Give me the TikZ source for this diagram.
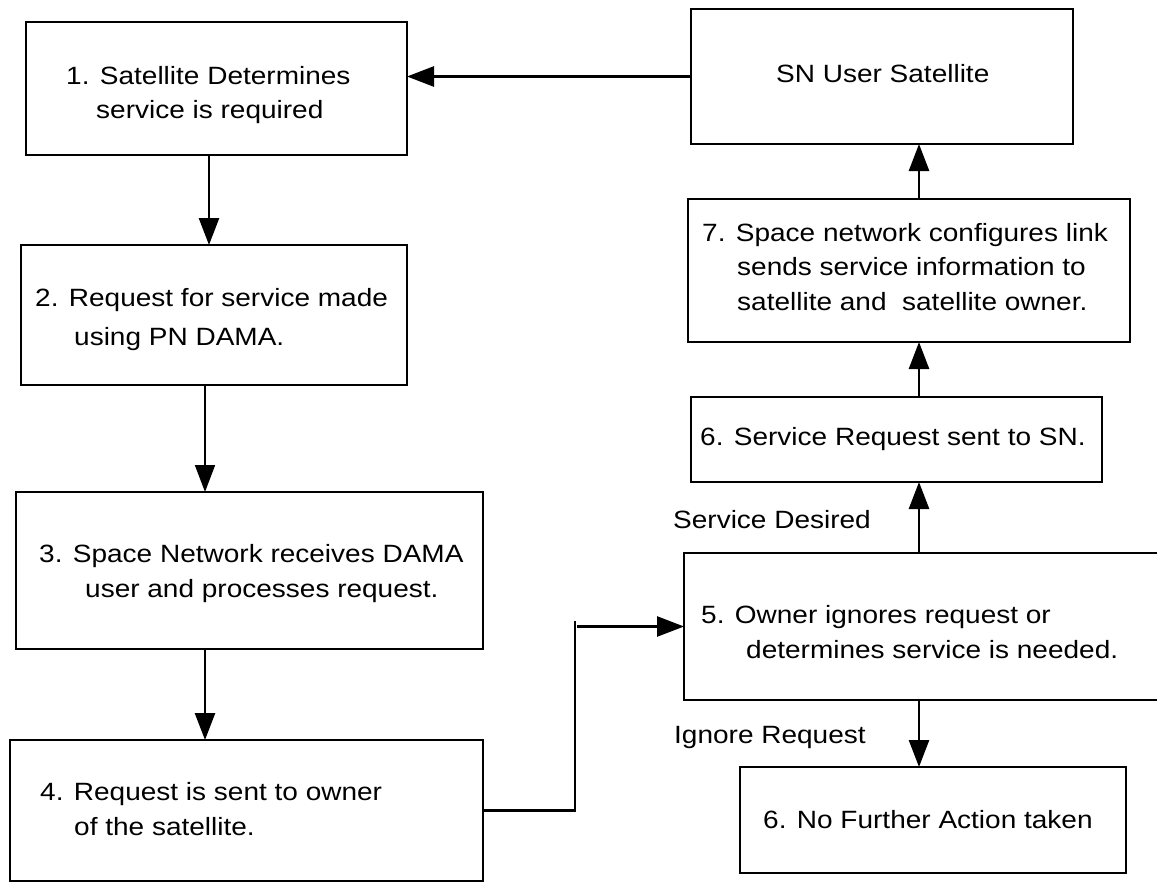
\documentclass[tikz,border=0pt]{standalone}
\usepackage{fontspec}
\setmainfont{Liberation Sans}
\newfontfamily\bodyfont[FakeStretch=1.12]{Liberation Sans}
\usetikzlibrary{arrows.meta,calc}
\tikzset{
  box/.style={draw, line width=2.7pt, inner sep=0pt, outer sep=0pt},
  txt/.style={anchor=base west, inner sep=0pt, font=\bodyfont\fontsize{25pt}{30pt}\selectfont},
  arr/.style={line width=2.6pt, -{Triangle[length=27pt,width=20pt]}},
  thinarr/.style={line width=1.7pt, -{Triangle[length=27pt,width=20pt]}},
  conn/.style={line width=2.6pt}
}
\begin{document}
\begin{tikzpicture}[x=1pt,y=-1pt]
\useasboundingbox (0,0) rectangle (1157,883);
\clip (0,0) rectangle (1157,883);
\fill[white] (0,0) rectangle (1157,883);
% boxes
\node[box, minimum width=381pt, minimum height=133pt] (b1) at (216.5,88.5) {};
\node[box, minimum width=386pt, minimum height=140pt] (b2) at (214,315) {};
\node[box, minimum width=467pt, minimum height=157pt] (b3) at (249.5,570.5) {};
\node[box, minimum width=473pt, minimum height=141pt] (b4) at (246.5,810.5) {};
\node[box, minimum width=382pt, minimum height=135pt] (sn) at (882,76.5) {};
\node[box, minimum width=442pt, minimum height=143pt] (b7) at (909,270.5) {};
\node[box, minimum width=411pt, minimum height=85pt] (b6) at (896.5,439.5) {};
\node[box, minimum width=486pt, minimum height=147pt] (b5) at (927,626.5) {};
\node[box, minimum width=386pt, minimum height=106pt] (b6n) at (933,820) {};
% texts
\node[txt] (t1a) at (66,84.5) {1. Satellite Determines};
\node[txt] (t1b) at (96,118.5) {service is required};
\node[txt] (t2a) at (35,306.5) {2. Request for service made};
\node[txt] (t2b) at (74,345.5) {using PN DAMA.};
\node[txt] (t3a) at (39,562.5) {3. Space Network receives DAMA};
\node[txt] (t3b) at (85,597.5) {user and processes request.};
\node[txt] (t4a) at (40,800.5) {4. Request is sent to owner};
\node[txt] (t4b) at (74,835.5) {of the satellite.};
\node[txt] (tsn) at (776,82.5) {SN User Satellite};
\node[txt] (t7a) at (702,241.5) {7. Space network configures link};
\node[txt] (t7b) at (737,275.5) {sends service information to};
\node[txt] (t7c) at (737,310.5) {satellite and\ \ satellite owner.};
\node[txt] (t6) at (700,445.5) {6. Service Request sent to SN.};
\node[txt] (t5a) at (701,623.5) {5. Owner ignores request or};
\node[txt] (t5b) at (746,658.5) {determines service is needed.};
\node[txt] (t6n) at (763,828.5) {6. No Further Action taken};
\node[txt] (lsd) at (673,528.5) {Service Desired};
\node[txt] (lir) at (674,743.5) {Ignore Request};
% helper coordinates
\coordinate (cl1) at (209,0);
\coordinate (cl2) at (205,0);
\coordinate (cr) at (919,0);
\coordinate (jt) at (575,621);
\coordinate (ja) at (577,0);
% connectors
\draw[arr] (sn.west) -- (sn.west -| b1.east);
\draw[arr] (b1.south -| cl1) -- (b2.north -| cl1);
\draw[thinarr] (b2.south -| cl2) -- (b3.north -| cl2);
\draw[arr] (b3.south -| cl2) -- (b4.north -| cl2);
\draw[conn] (b4.east) -| (jt);
\draw[arr] (b5.west -| ja) -- (b5.west);
\draw[arr] (b5.north -| cr) -- (b6.south -| cr);
\draw[arr] (b6.north -| cr) -- (b7.south -| cr);
\draw[arr] (b7.north -| cr) -- (sn.south -| cr);
\draw[arr] (b5.south -| cr) -- (b6n.north -| cr);
\end{tikzpicture}
\end{document}
